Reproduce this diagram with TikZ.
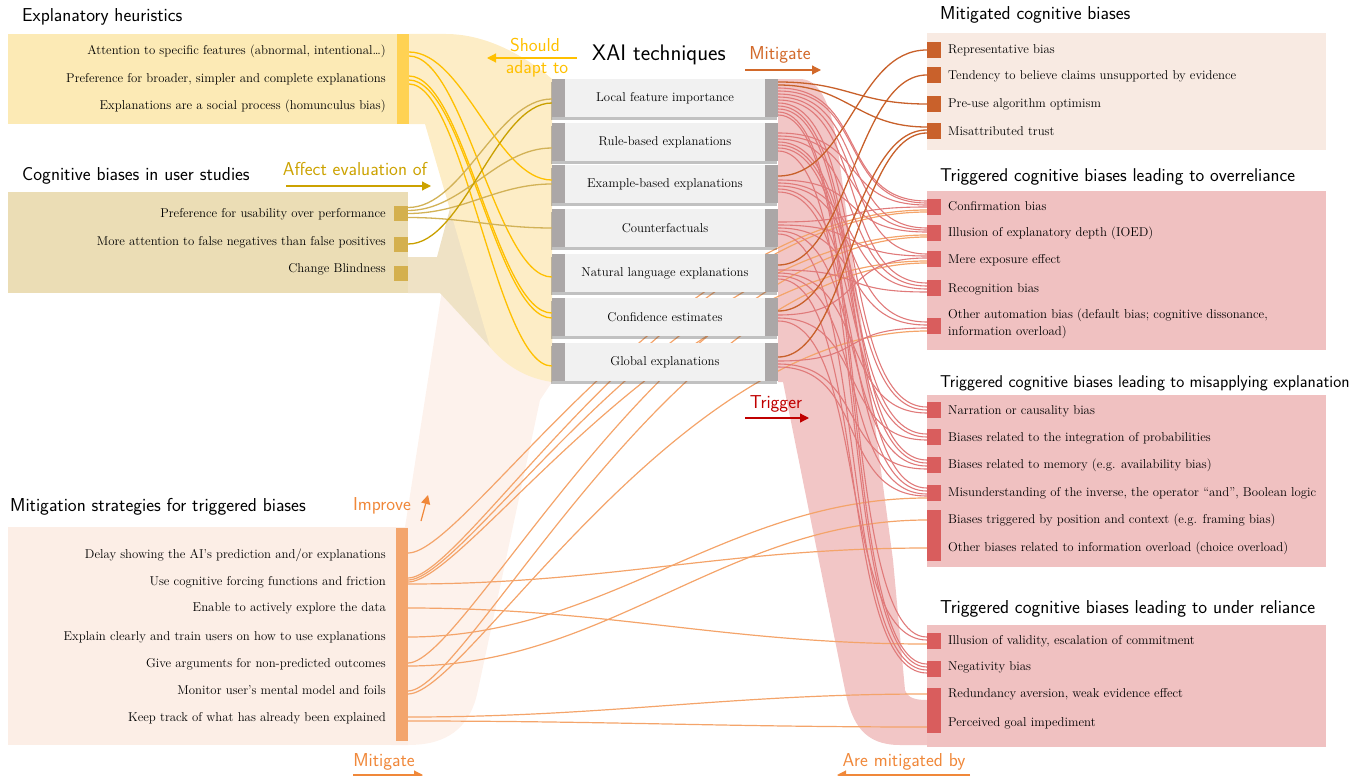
\documentclass[tikz,border=0pt]{standalone}
\usepackage{fontspec}
\usetikzlibrary{arrows.meta,shadows,calc}
\definecolor{yfill}{HTML}{FCEAB5}
\definecolor{yband}{HTML}{FDEDC6}
\definecolor{barY}{HTML}{FFD253}
\definecolor{tfill}{HTML}{EBDDB5}
\definecolor{tband}{HTML}{EFE2C5}
\definecolor{tsq}{HTML}{D4B04E}
\definecolor{pfill}{HTML}{FCEEE6}
\definecolor{pband}{HTML}{FDF2EC}
\definecolor{barP}{HTML}{F3A56D}
\definecolor{ronefill}{HTML}{F8EAE2}
\definecolor{ronesq}{HTML}{C9612B}
\definecolor{rfill}{HTML}{F0C1C1}
\definecolor{rband}{HTML}{F2C6C6}
\definecolor{rsq}{HTML}{D95D5D}
\definecolor{xfill}{HTML}{F1F1F1}
\definecolor{barX}{HTML}{ABA7A7}
\definecolor{cyl}{HTML}{FFC000}
\definecolor{cgA}{HTML}{D2B257}
\definecolor{cgB}{HTML}{C9A000}
\definecolor{corg}{HTML}{F4A46A}
\definecolor{cdko}{HTML}{C8602A}
\definecolor{crd}{HTML}{E07A7A}
\definecolor{ctrig}{HTML}{C00000}
\definecolor{cimp}{HTML}{F0883A}
\definecolor{caff}{HTML}{CCA200}
\definecolor{cmit}{HTML}{D2692A}
\newcommand\ftBody{\fontsize{12.8}{15}\selectfont}
\newcommand\ftHead{\sffamily\fontsize{18.7}{22}\selectfont}
\newcommand\ftXai{\sffamily\fontsize{22.5}{26}\selectfont}
\newcommand\cn[6]{\draw[#1] ($(#2)+(0,#3)$) .. controls +(#6,0) and +(-#6,0) .. ($(#4)+(0,#5)$);}
\newcommand\cna[7]{\draw[#1] ($(#2)+(0,#3)$) .. controls +(#6,0) and +(-#7,0) .. ($(#4)+(0,#5)$);}
\begin{document}
\begin{tikzpicture}[x=1pt,y=-1pt,
  litem/.style={font=\ftBody,inner sep=0pt,anchor=east,text height=9pt,text depth=3pt},
  ritem/.style={font=\ftBody,inner sep=0pt,anchor=west,text height=9pt,text depth=3pt},
  head/.style={font=\ftHead,inner sep=0pt,anchor=west,text height=13pt,text depth=4pt},
  lab/.style={font=\ftHead,inner sep=0pt,text height=13pt,text depth=4pt},
  sq/.style={inner sep=0pt,minimum width=14pt,minimum height=15pt},
  xbox/.style={fill=xfill,minimum width=226pt,minimum height=38pt,inner sep=0pt,font=\ftBody,
    drop shadow={shadow xshift=-1pt,shadow yshift=-3pt,opacity=.35,fill=black!70}},
  ylw/.style={cyl,line width=1.3pt},
  gldA/.style={cgA,line width=1.3pt},
  gldB/.style={cgB,line width=1.3pt},
  org/.style={corg,line width=1.2pt},
  dko/.style={cdko,line width=1.3pt},
  rd/.style={crd,line width=1.1pt},
  arr/.style={line width=1.2pt,-{Triangle[length=9pt,width=9pt]}}]
\useasboundingbox (0,0) rectangle (1365,776);
% ---------- background bands
\fill[pband] (442,290) -- (500,300) -- (552,382) -- (540,400) -- (478,690) .. controls (470,730) and (445,745) .. (408,745) -- (391,745) -- (391,617) -- cycle;
\fill[tband] (408,257) -- (437,257) -- (455,190) -- (552,300) -- (552,382) -- (490,347) -- (440,293) -- (408,293) -- cycle;
\fill[yband] (409,34) -- (446,34) .. controls (490,34) and (530,60) .. (552,79) -- (552,382) .. controls (525,378) and (505,365) .. (490,347) -- (425,124) -- (409,124) -- cycle;
\fill[rband] (778,79) -- (800,79) .. controls (822,79) and (832,110) .. (838,150) -- (893,560) -- (905,690) .. controls (908,698) and (915,700) .. (927,700) -- (927,745) -- (900,745) .. controls (865,745) and (852,725) .. (845,690) -- (783,382) -- (778,382) -- cycle;
% ---------- panels
\fill[yfill] (8,34) rectangle (409,124);
\fill[tfill] (8,192) rectangle (408,293);
\fill[pfill] (8,527) rectangle (408,745);
\fill[ronefill] (927,33) rectangle (1326,150);
\fill[rfill] (927,191) rectangle (1326,350);
\fill[rfill] (927,395) rectangle (1326,567);
\fill[rfill] (927,625) rectangle (1326,747);
% ---------- headings
\node[head] (hh1) at (22,17) {Explanatory heuristics};
\node[head] (hh2) at (22,176) {Cognitive biases in user studies};
\node[head] (hh3) at (10,507) {Mitigation strategies for triggered biases};
\node[font=\ftXai,inner sep=0pt,anchor=west,text height=15pt,text depth=5pt] (hx) at (592,56) {XAI techniques};
\node[head] (hr1) at (940,15) {Mitigated cognitive biases};
\node[head,font=\sffamily\fontsize{18.5}{22}\selectfont] (hr2) at (940,177) {Triggered cognitive biases leading to overreliance};
\node[head,font=\sffamily\fontsize{17.1}{20}\selectfont] (hr3) at (940,383) {Triggered cognitive biases leading to misapplying explanation};
\node[head] (hr4) at (940,609) {Triggered cognitive biases leading to under reliance};
% ---------- ports
\coordinate (h1p) at (409,52);
\coordinate (h2p) at (409,79);
\coordinate (s1p) at (408,555);
\coordinate (s2p) at (408,582);
\coordinate (s3p) at (408,608);
\coordinate (s4p) at (408,637);
\coordinate (s5p) at (408,664);
\coordinate (s6p) at (408,692);
\coordinate (s7p) at (408,719);
% ---------- right squares (positions needed for lines)
\node[sq,fill=ronesq] (m1) at (934,50) {};
\node[sq,fill=ronesq] (m2) at (934,75) {};
\node[sq,fill=ronesq] (m3) at (934,104) {};
\node[sq,fill=ronesq] (m4) at (934,131) {};
\node[sq,fill=rsq] (o1) at (934,207) {};
\node[sq,fill=rsq] (o2) at (934,233) {};
\node[sq,fill=rsq] (o3) at (934,259) {};
\node[sq,fill=rsq] (o4) at (934,288) {};
\node[sq,fill=rsq] (o5) at (934,326) {};
\node[sq,fill=rsq] (a1) at (934,410) {};
\node[sq,fill=rsq] (a2) at (934,437) {};
\node[sq,fill=rsq] (a3) at (934,465) {};
\node[sq,fill=rsq] (a4) at (934,493) {};
\node[sq,fill=rsq,minimum height=51pt] (a56) at (934,535.5) {};
\node[sq,fill=rsq] (u1) at (934,641) {};
\node[sq,fill=rsq] (u2) at (934,669) {};
\node[sq,fill=rsq,minimum height=45pt] (u34) at (934,710.5) {};
% ---------- left squares
\node[sq,fill=tsq] (c1) at (401,213.5) {};
\node[sq,fill=tsq] (c2) at (401,244) {};
\node[sq,fill=tsq] (c3) at (401,273) {};
% ---------- XAI box centres
\path (665,98) coordinate (x1c) (665,142) coordinate (x2c) (665,184) coordinate (x3c)
  (665,228) coordinate (x4c) (665,273) coordinate (x5c) (665,317) coordinate (x6c) (665,362) coordinate (x7c);
% ---------- orange lines (behind XAI)
\cna{org}{s1p}{-2}{o1.west}{3}{60}{250}
\cna{org}{s2p}{-4}{o1.west}{5}{60}{250}
\cna{org}{s2p}{-2}{o2.west}{2}{60}{250}
\cna{org}{s2p}{0}{o3.west}{2}{60}{250}
\cn{org}{s2p}{2}{a56.west}{12.5}{200}
\cn{org}{s3p}{0}{u1.west}{3}{200}
\cn{org}{s4p}{0}{a4.west}{5}{200}
\cna{org}{s5p}{-1}{o2.west}{4}{60}{250}
\cn{org}{s5p}{2}{a56.west}{-15.5}{200}
\cna{org}{s6p}{-1}{o3.west}{4}{60}{250}
\cna{org}{s6p}{2}{o5.west}{5}{60}{250}
\cn{org}{s7p}{-2}{u34.west}{-16.5}{200}
\cn{org}{s7p}{2}{u34.west}{16.5}{200}
% ---------- XAI boxes
\foreach \n/\t in {x1/Local feature importance,x2/Rule-based explanations,x3/Example-based explanations,
  x4/Counterfactuals,x5/Natural language explanations,x6/Confidence estimates,x7/Global explanations}{
  \node[xbox] (\n) at (\n c) {\t};
  \fill[barX] (\n.north west) rectangle ([xshift=13pt]\n.south west);
  \fill[barX] ([xshift=-13pt]\n.north east) rectangle (\n.south east);
}
% ---------- yellow lines
\cn{ylw}{h1p}{0}{x3.west}{-4}{55}
\cn{ylw}{h1p}{4}{x5.west}{4}{55}
\cn{ylw}{h2p}{-3}{x6.west}{-4}{55}
\cn{ylw}{h2p}{1}{x6.west}{1}{55}
\cn{ylw}{h2p}{5}{x7.west}{4}{55}
% ---------- gold lines
\cn{gldA}{c1.east}{-6}{x1.west}{1}{55}
\cn{gldA}{c1.east}{-3}{x2.west}{6}{55}
\cn{gldA}{c1.east}{0}{x3.west}{0}{55}
\cn{gldA}{c1.east}{4}{x4.west}{0}{55}
\cn{gldB}{c2.east}{0}{x1.west}{5}{55}
% ---------- red lines
\cn{rd}{x1.east}{-10}{o1.west}{-6}{90}
\cn{rd}{x1.east}{-7}{o1.west}{-4}{90}
\cn{rd}{x1.east}{-4}{o2.west}{-5}{90}
\cn{rd}{x1.east}{-1}{o3.west}{-5}{90}
\cn{rd}{x1.east}{2}{o4.west}{-5}{90}
\cn{rd}{x1.east}{5}{a1.west}{-3}{90}
\cn{rd}{x1.east}{8}{a3.west}{-5}{90}
\cn{rd}{x1.east}{11}{a4.west}{-5}{90}
\cn{rd}{x1.east}{14}{u1.west}{-4}{90}
\cn{rd}{x1.east}{17}{u2.west}{-5}{90}
\cn{rd}{x2.east}{-9}{o1.west}{-2}{90}
\cn{rd}{x2.east}{-6}{o2.west}{-3}{90}
\cn{rd}{x2.east}{-3}{o4.west}{-2}{90}
\cn{rd}{x2.east}{0}{a1.west}{0}{90}
\cn{rd}{x2.east}{3}{a2.west}{-3}{90}
\cn{rd}{x2.east}{6}{a3.west}{-2}{90}
\cn{rd}{x2.east}{9}{u2.west}{-2}{90}
\cn{rd}{x3.east}{-4}{o2.west}{-1}{90}
\cn{rd}{x3.east}{-1}{o4.west}{1}{90}
\cn{rd}{x3.east}{2}{o5.west}{-4}{90}
\cn{rd}{x3.east}{5}{a2.west}{0}{90}
\cn{rd}{x3.east}{8}{a4.west}{-2}{90}
\cn{rd}{x4.east}{-6}{o1.west}{0}{90}
\cn{rd}{x4.east}{-3}{o3.west}{-3}{90}
\cn{rd}{x4.east}{0}{o5.west}{-1}{90}
\cn{rd}{x4.east}{3}{a3.west}{1}{90}
\cn{rd}{x4.east}{6}{u2.west}{1}{90}
\cn{rd}{x5.east}{-3}{o4.west}{4}{90}
\cn{rd}{x5.east}{0}{a1.west}{3}{90}
\cn{rd}{x5.east}{3}{a4.west}{1}{90}
\cn{rd}{x5.east}{6}{u2.west}{4}{90}
\cn{rd}{x6.east}{-2}{o3.west}{-1}{90}
\cn{rd}{x6.east}{1}{a2.west}{3}{90}
\cn{rd}{x6.east}{4}{u1.west}{-1}{90}
\cn{rd}{x7.east}{-1}{o5.west}{2}{90}
\cn{rd}{x7.east}{2}{a3.west}{4}{90}
\cn{rd}{x7.east}{5}{a4.west}{3}{90}
% ---------- dark orange lines
\cn{dko}{x1.east}{-16}{m3.west}{0}{70}
\cn{dko}{x1.east}{-13}{m4.west}{-4}{70}
\cn{dko}{x3.east}{-8}{m1.west}{0}{70}
\cn{dko}{x5.east}{-8}{m2.west}{0}{70}
\cn{dko}{x6.east}{-6}{m4.west}{-1}{70}
\cn{dko}{x7.east}{-5}{m4.west}{2}{70}
% ---------- redraw squares and bars on top
\foreach \s/\c in {m1/ronesq,m2/ronesq,m3/ronesq,m4/ronesq,o1/rsq,o2/rsq,o3/rsq,o4/rsq,o5/rsq,a1/rsq,a2/rsq,a3/rsq,a4/rsq,a56/rsq,u1/rsq,u2/rsq,u34/rsq}{
  \fill[\c] (\s.north west) rectangle (\s.south east);}
\fill[barY] (397,34) rectangle (409,124);
\fill[barP] (396,528) rectangle (408,741);
% ---------- left texts
\node[litem] (h1) at (386,52) {Attention to specific features (abnormal, intentional\ldots)};
\node[litem] (h2) at (386,79) {Preference for broader, simpler and complete explanations};
\node[litem] (h3) at (386,106) {Explanations are a social process (homunculus bias)};
\node[litem] (ct1) at (386,214) {Preference for usability over performance};
\node[litem] (ct2) at (386,242) {More attention to false negatives than false positives};
\node[litem] (ct3) at (386,269) {Change Blindness};
\node[litem] (st1) at (386,555) {Delay showing the AI's prediction and/or explanations};
\node[litem] (st2) at (386,582) {Use cognitive forcing functions and friction};
\node[litem] (st3) at (386,608) {Enable to actively explore the data};
\node[litem] (st4) at (386,637) {Explain clearly and train users on how to use explanations};
\node[litem] (st5) at (386,664) {Give arguments for non-predicted outcomes};
\node[litem] (st6) at (386,691) {Monitor user's mental model and foils};
\node[litem] (st7) at (386,718) {Keep track of what has already been explained};
% ---------- right texts
\node[ritem] (tm1) at (948,50) {Representative bias};
\node[ritem] (tm2) at (948,76) {Tendency to believe claims unsupported by evidence};
\node[ritem] (tm3) at (948,104) {Pre-use algorithm optimism};
\node[ritem] (tm4) at (948,132) {Misattributed trust};
\node[ritem] (to1) at (948,207) {Confirmation bias};
\node[ritem] (to2) at (948,233) {Illusion of explanatory depth (IOED)};
\node[ritem] (to3) at (948,260) {Mere exposure effect};
\node[ritem] (to4) at (948,289) {Recognition bias};
\node[font=\fontsize{12.8}{17}\selectfont,inner sep=0pt,anchor=west,align=left] (to5) at (948,323.5) {Other automation bias (default bias; cognitive dissonance,\\information overload)};
\node[ritem] (ta1) at (948,411) {Narration or causality bias};
\node[ritem] (ta2) at (948,438) {Biases related to the integration of probabilities};
\node[ritem] (ta3) at (948,465) {Biases related to memory (e.g. availability bias)};
\node[ritem] (ta4) at (948,493) {Misunderstanding of the inverse, the operator ``and'', Boolean logic};
\node[ritem] (ta5) at (948,520) {Biases triggered by position and context (e.g. framing bias)};
\node[ritem] (ta6) at (948,548) {Other biases related to information overload (choice overload)};
\node[ritem] (tu1) at (948,641) {Illusion of validity, escalation of commitment};
\node[ritem] (tu2) at (948,667) {Negativity bias};
\node[ritem] (tu3) at (948,694) {Redundancy aversion, weak evidence effect};
\node[ritem] (tu4) at (948,723) {Perceived goal impediment};
% ---------- relation labels
\node[lab,text=cyl] (lsh1) at (535,47) {Should};
\node[lab,text=cyl] (lsh2) at (537,69) {adapt to};
\coordinate (sha) at (577,58); \coordinate (shb) at (487,58);
\draw[arr,cyl] (sha) -- (shb);
\node[lab,text=caff] (laf) at (355,171) {Affect evaluation of};
\coordinate (afa) at (286,186); \coordinate (afb) at (431,186);
\draw[arr,caff] (afa) -- (afb);
\node[lab,text=cmit] (lmt) at (780,55) {Mitigate};
\coordinate (mta) at (745,70); \coordinate (mtb) at (821,70);
\draw[arr,cmit] (mta) -- (mtb);
\node[lab,text=ctrig] (ltr) at (776,404) {Trigger};
\coordinate (tra) at (745,418); \coordinate (trb) at (809,418);
\draw[arr,ctrig] (tra) -- (trb);
\node[lab,text=cimp] (lim) at (382,506) {Improve};
\coordinate (ima) at (421,521); \coordinate (imb) at (428,495);
\draw[arr,cimp] (ima) -- (imb);
\node[lab,text=cimp] (lmb) at (384,762) {Mitigate};
\coordinate (mba) at (353,775); \coordinate (mbb) at (423,775);
\draw[arr,cimp] (mba) -- (mbb);
\node[lab,text=cimp] (lam) at (904,762) {Are mitigated by};
\coordinate (ama) at (970,775); \coordinate (amb) at (837,775);
\draw[arr,cimp] (ama) -- (amb);
\end{tikzpicture}
\end{document}
